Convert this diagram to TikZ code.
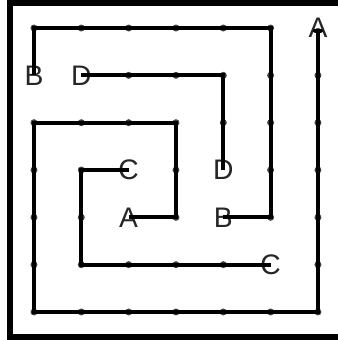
\documentclass[tikz,border=0pt]{standalone}
\usepackage{fontspec}
\setmainfont{Liberation Sans}
\usetikzlibrary{arrows.meta}
\begin{document}
\begin{tikzpicture}[x=1cm,y=1cm,
    wire/.style={line width=2.3pt, black},
    dot/.style={fill=black!75},
    lbl/.style={inner sep=0pt, text=black!85, font=\fontsize{17}{20}\selectfont}
]

\path[use as bounding box, clip] (-0.718,-0.592) rectangle (6.423,6.592);

% frame (right side runs off the picture)
\draw[line width=3.8pt] (-0.513,-0.528) rectangle (7.0,6.524);

% grid points
\foreach \i in {0,...,6} {
  \foreach \j in {0,...,6} {
    \coordinate (p\i\j) at (\i,\j);
  }
}

% dots, row by row, label spots left out
\foreach \i in {0,...,6} \fill[dot] (p\i0) circle (2.1pt);
\foreach \i in {0,1,2,3,4,6} \fill[dot] (p\i1) circle (2.1pt);
\foreach \i in {0,1,3,5,6} \fill[dot] (p\i2) circle (2.1pt);
\foreach \i in {0,1,3,5,6} \fill[dot] (p\i3) circle (2.1pt);
\foreach \i in {0,...,6} \fill[dot] (p\i4) circle (2.1pt);
\foreach \i in {2,...,6} \fill[dot] (p\i5) circle (2.1pt);
\foreach \i in {0,...,5} \fill[dot] (p\i6) circle (2.1pt);

% end labels
\node[lbl] (a1) at (p22) {A};
\node[lbl] (a2) at (p66) {A};
\node[lbl] (b1) at (p42) {B};
\node[lbl] (b2) at (p05) {B};
\node[lbl] (c1) at (p23) {C};
\node[lbl] (c2) at (p51) {C};
\node[lbl] (d1) at (p15) {D};
\node[lbl] (d2) at (p43) {D};

% the four paths
\draw[wire,-{To[length=3pt]}] (a1.center) -- (p32) -- (p34) -- (p04) -- (p00) -- (p60) -- (a2.center);
\draw[wire] (b1.center) -- (p52) -- (p56) -- (p06) -- (b2.center);
\draw[wire] (c1.center) -- (p13) -- (p11) -- (c2.center);
\draw[wire] (d1.center) -- (p45) -- (d2.center);
\end{tikzpicture}
\end{document}
